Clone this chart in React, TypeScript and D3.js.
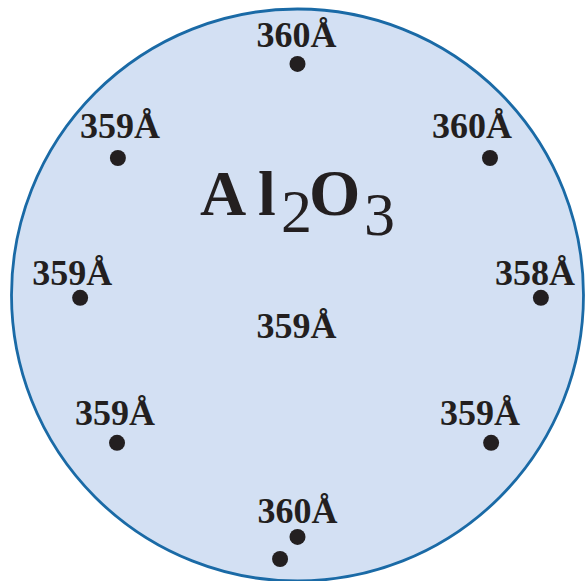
import React from "react";
import * as d3 from "d3";

// Measurement sites on the wafer, in wafer units (-1..1, centre = 0)
const siteNames = ["top", "upperLeft", "upperRight", "left", "right", "lowerLeft", "lowerRight", "bottom", "center"];
const siteX = [0.0, -0.628, 0.673, -0.76, 0.851, -0.631, 0.677, 0.0, 0.0];
const siteY = [0.808, 0.479, 0.479, -0.01, -0.01, -0.517, -0.517, -0.846, 0.0];
const thickness = [360, 359, 360, 359, 358, 359, 359, 360, 359];
const hasDot = [true, true, true, true, true, true, true, true, false];
// extra unlabeled mark near the bottom
const extraX = [-0.061];
const extraY = [-0.923];
const unit = "Å";
const material = ["Al", "2", "O", "3"];

// label placement relative to each site (layout)
const labelDx = [-1, 2, -18, -8, -6, -2, -11, 0, -1];
const labelDy = [-17, -20, -20, -13, -13, -18, -18, -14, 43];

const W = 585;
const H = 581;
const cx = 297.5;
const cy = 295;
const R = 286;

export default function App() {
  const x = d3.scaleLinear().domain([-1, 1]).range([cx - R, cx + R]);
  const y = d3.scaleLinear().domain([-1, 1]).range([cy + R, cy - R]);
  const font = "'Liberation Serif', 'Times New Roman', serif";
  const ink = "#231f20";

  return (
    <svg
      width={W}
      height={H}
      style={{ position: "absolute", left: 0, top: 0, display: "block" }}
    >
      <circle cx={x(0)} cy={y(0)} r={R} fill="#d3e0f3" stroke="#1a6aa6" strokeWidth={2.8} />
      {siteNames.map((n, i) => (
        <g key={n}>
          {hasDot[i] && <circle cx={x(siteX[i])} cy={y(siteY[i])} r={8} fill={ink} />}
          <text
            x={x(siteX[i]) + labelDx[i]}
            y={y(siteY[i]) + labelDy[i]}
            textAnchor="middle"
            fontFamily={font}
            fontWeight="bold"
            fontSize={36}
            fill={ink}
          >
            {thickness[i] + unit}
          </text>
        </g>
      ))}
      {extraX.map((v, i) => (
        <circle key={"e" + i} cx={x(v)} cy={y(extraY[i])} r={8} fill={ink} />
      ))}
      <text fontFamily={font} fill={ink}>
        <tspan x={200} y={215} fontWeight="bold" fontSize={64}>A</tspan>
        <tspan x={258} y={215} fontWeight="bold" fontSize={64}>{material[0].slice(1)}</tspan>
        <tspan x={281} y={232} fontSize={62}>{material[1]}</tspan>
        <tspan x={309} y={215} fontWeight="bold" fontSize={66}>{material[2]}</tspan>
        <tspan x={364} y={235} fontSize={62}>{material[3]}</tspan>
      </text>
    </svg>
  );
}
